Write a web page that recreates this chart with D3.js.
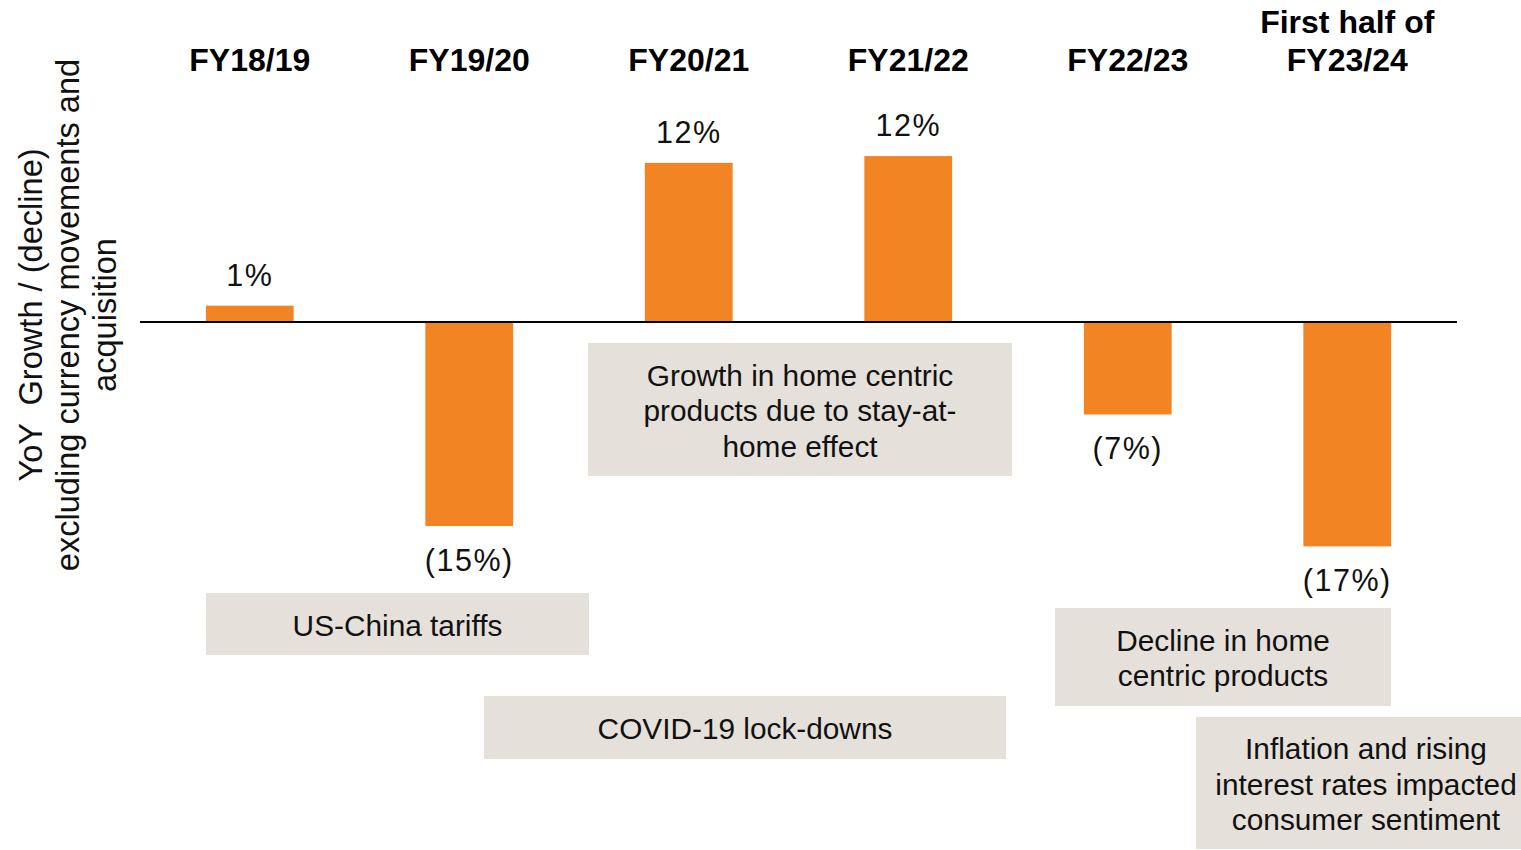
<!DOCTYPE html>
<html>
<head>
<meta charset="utf-8">
<script src="https://cdn.jsdelivr.net/npm/d3@7"></script>
<style>
  html, body { margin: 0; padding: 0; background: #fff; }
  svg { display: block; font-family: "Liberation Sans", Arial, Helvetica, sans-serif; }
</style>
</head>
<body>
<svg id="chart" width="1521" height="850"></svg>
<script>
// Fiscal periods (each entry may wrap onto several lines)
const categories = ["FY18/19", "FY19/20", "FY20/21", "FY21/22", "FY22/23", "First half of\nFY23/24"];
// YoY growth / (decline) excluding currency movements and acquisition, %
const growth = [1.2, -15.0, 11.7, 12.2, -6.8, -16.5];
// Axis title lines
const axisTitle = ["YoY  Growth / (decline)", "excluding currency movements and", "acquisition"];
// Explanatory notes
const notes = [
  "Growth in home centric\nproducts due to stay-at-\nhome effect",
  "US-China tariffs",
  "COVID-19 lock-downs",
  "Decline in home\ncentric products",
  "Inflation and rising\ninterest rates impacted\nconsumer sentiment"
];

// ---- layout ----
const W = 1521, H = 850;
const plotLeft = 140, plotRight = 1457;
const orange = "#f38424";
const noteFill = "#e5e1da";
const noteBoxes = [
  { x0: 588,  x1: 1012, y0: 343, y1: 476 },
  { x0: 206,  x1: 589,  y0: 593, y1: 655 },
  { x0: 484,  x1: 1006, y0: 696, y1: 759 },
  { x0: 1055, x1: 1391, y0: 608, y1: 706 },
  { x0: 1196, x1: 1536, y0: 717, y1: 849 }
];

const svg = d3.select("#chart");

const x = d3.scaleBand()
  .domain(categories)
  .range([plotLeft, plotRight])
  .paddingInner(0.6)
  .paddingOuter(0.3);

const y = d3.scaleLinear()
  .domain([-20, 15])
  .range([594, 118]);

const fmt = v => v < 0 ? `(${Math.round(Math.abs(v))}%)` : `${Math.round(v)}%`;

const data = categories.map((c, i) => ({ cat: c, v: growth[i] }));

// Bars
svg.append("g").selectAll("rect")
  .data(data)
  .join("rect")
  .attr("x", d => x(d.cat))
  .attr("width", x.bandwidth())
  .attr("y", d => y(Math.max(0, d.v)))
  .attr("height", d => Math.abs(y(d.v) - y(0)))
  .attr("fill", orange);

// Zero baseline
svg.append("line")
  .attr("x1", plotLeft).attr("x2", plotRight)
  .attr("y1", y(0)).attr("y2", y(0))
  .attr("stroke", "#000").attr("stroke-width", 2);

// Value labels
svg.append("g").selectAll("text")
  .data(data)
  .join("text")
  .attr("x", d => x(d.cat) + x.bandwidth() / 2)
  .attr("y", d => d.v >= 0 ? y(d.v) - 31 : y(d.v) + 34)
  .attr("text-anchor", "middle")
  .attr("dominant-baseline", "central")
  .attr("font-size", 30.5)
  .attr("letter-spacing", 1.5)
  .attr("fill", "#111")
  .text(d => fmt(d.v));

// Category headers across the top
const headers = svg.append("g").selectAll("text")
  .data(categories)
  .join("text")
  .attr("text-anchor", "middle")
  .attr("font-size", 32)
  .attr("font-weight", "bold")
  .attr("fill", "#000");
headers.each(function (c) {
  const lines = c.split("\n");
  const cx = x(c) + x.bandwidth() / 2;
  d3.select(this).selectAll("tspan")
    .data(lines)
    .join("tspan")
    .attr("x", cx)
    .attr("y", (l, i) => 60 - (lines.length - 1 - i) * 38)
    .attr("dominant-baseline", "central")
    .text(l => l);
});

// Rotated axis title
const title = svg.append("text")
  .attr("transform", "translate(67,315) rotate(-90)")
  .attr("text-anchor", "middle")
  .attr("font-size", 32.6)
  .attr("fill", "#111")
  .style("white-space", "pre");
title.selectAll("tspan")
  .data(axisTitle)
  .join("tspan")
  .attr("x", 0)
  .attr("y", (l, i) => (i - 1) * 37)
  .attr("dominant-baseline", "central")
  .text(l => l);

// Note boxes
const noteG = svg.append("g").selectAll("g")
  .data(notes.map((t, i) => ({ text: t, box: noteBoxes[i] })))
  .join("g");
noteG.append("rect")
  .attr("x", d => d.box.x0)
  .attr("y", d => d.box.y0)
  .attr("width", d => d.box.x1 - d.box.x0)
  .attr("height", d => d.box.y1 - d.box.y0)
  .attr("fill", noteFill);
noteG.each(function (d) {
  const lines = d.text.split("\n");
  const cx = (d.box.x0 + d.box.x1) / 2;
  const cy = (d.box.y0 + d.box.y1) / 2 + 1;
  const lh = 35.5;
  d3.select(this).append("text")
    .attr("text-anchor", "middle")
    .attr("font-size", 29.8)
    .attr("fill", "#111")
    .selectAll("tspan")
    .data(lines)
    .join("tspan")
    .attr("x", cx)
    .attr("y", (l, i) => cy + (i - (lines.length - 1) / 2) * lh)
    .attr("dominant-baseline", "central")
    .text(l => l);
});
</script>
</body>
</html>
